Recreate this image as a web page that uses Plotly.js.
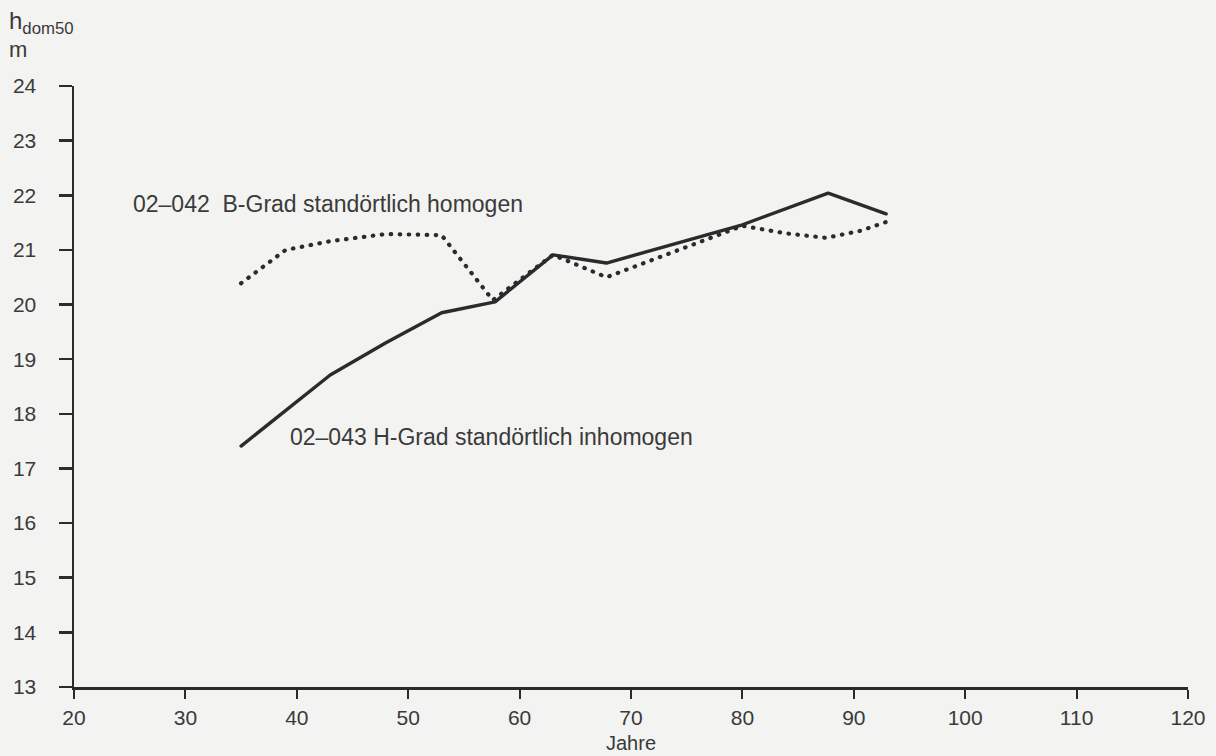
<!DOCTYPE html>
<html>
<head>
<meta charset="utf-8">
<script src="https://cdn.plot.ly/plotly-3.0.1.min.js"></script>
<style>
html,body{margin:0;padding:0;background:#f3f3f1;}
#chart{width:1216px;height:756px;}
.scatterlayer .js-line{stroke-linecap:round;stroke-linejoin:round;}
</style>
</head>
<body>
<div id="chart"></div>
<script>
// Series 02-043 H-Grad standörtlich inhomogen (solid)
const agesH = [35, 43, 48, 53, 57.8, 63, 67.8, 80, 87.7, 92.9];
const hdomH = [17.41, 18.71, 19.30, 19.85, 20.05, 20.91, 20.76, 21.46, 22.04, 21.66];

// Series 02-042 B-Grad standörtlich homogen (dotted)
const agesB = [35, 39, 43, 48, 53, 57.6, 63, 67.8, 80, 84, 87.5, 90.6, 92.9];
const hdomB = [20.39, 21.00, 21.16, 21.29, 21.27, 20.08, 20.91, 20.50, 21.44, 21.30, 21.22, 21.35, 21.51];

const xTicks = [20, 30, 40, 50, 60, 70, 80, 90, 100, 110, 120];
const yTicks = [13, 14, 15, 16, 17, 18, 19, 20, 21, 22, 23, 24];

const labelB = "02–042  B-Grad standörtlich homogen";
const labelH = "02–043 H-Grad standörtlich inhomogen";
const yTitle = "h<sub>dom50</sub>";
const yUnit = "m";
const xTitle = "Jahre";

const ink = "#2b2b2b";
const txt = "#3a3a3a";
const fam = "Liberation Sans, Arial, sans-serif";

const traces = [
  {x: agesB, y: hdomB, mode: "lines", line: {color: ink, width: 4.2, dash: "0.5px,8.5px"}, hoverinfo: "skip"},
  {x: agesH, y: hdomH, mode: "lines", line: {color: ink, width: 3.4}, hoverinfo: "skip"}
];

const layout = {
  width: 1216, height: 756,
  margin: {l: 74, r: 28, t: 86, b: 69},
  paper_bgcolor: "#f3f3f1", plot_bgcolor: "rgba(0,0,0,0)",
  showlegend: false,
  font: {family: fam, size: 21, color: txt},
  xaxis: {
    range: [20, 120], tickvals: xTicks, ticktext: xTicks.map(String),
    showgrid: false, zeroline: false, showline: true, linecolor: ink, linewidth: 2.5,
    ticks: "outside", ticklen: 9, tickwidth: 2, tickcolor: ink,
    ticklabelstandoff: 1, tickfont: {family: fam, size: 21, color: txt}
  },
  yaxis: {
    range: [13, 24], tickvals: yTicks, ticktext: yTicks.map(String),
    showgrid: false, zeroline: false, showline: true, linecolor: ink, linewidth: 2.5,
    ticks: "outside", ticklen: 13, tickwidth: 2.5, tickcolor: ink,
    ticklabelstandoff: 18, tickfont: {family: fam, size: 21, color: txt}
  },
  annotations: [
    {xref: "paper", yref: "paper", x: (131 - 74) / 1114, y: (687 - 204) / 601, xanchor: "left", yanchor: "middle",
     text: labelB, showarrow: false, font: {family: fam, size: 23, color: txt}},
    {xref: "paper", yref: "paper", x: (288 - 74) / 1114, y: (687 - 437) / 601, xanchor: "left", yanchor: "middle",
     text: labelH, showarrow: false, font: {family: fam, size: 23, color: txt}},
    {xref: "paper", yref: "paper", x: (7 - 74) / 1114, y: (687 - 22) / 601, xanchor: "left", yanchor: "middle",
     text: yTitle, showarrow: false, font: {family: fam, size: 24, color: txt}},
    {xref: "paper", yref: "paper", x: (7 - 74) / 1114, y: (687 - 49) / 601, xanchor: "left", yanchor: "middle",
     text: yUnit, showarrow: false, font: {family: fam, size: 22, color: txt}},
    {xref: "paper", yref: "paper", x: 0.5, y: (687 - 756) / 601, xanchor: "center", yanchor: "bottom",
     text: xTitle, showarrow: false, font: {family: fam, size: 20, color: txt}}
  ]
};

Plotly.newPlot("chart", traces, layout, {staticPlot: true, displayModeBar: false});
</script>
</body>
</html>
